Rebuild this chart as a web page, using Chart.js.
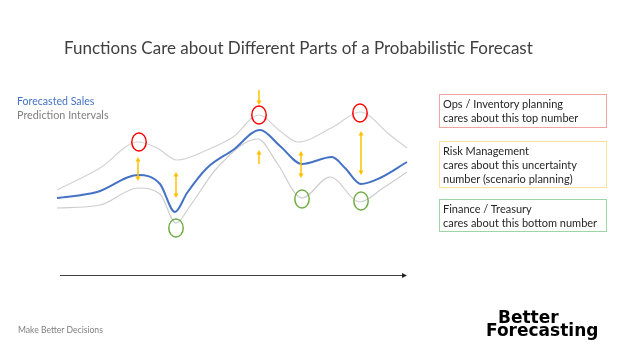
<!DOCTYPE html>
<html>
<head>
<meta charset="utf-8">
<title>Probabilistic Forecast</title>
<script src="https://cdn.jsdelivr.net/npm/chart.js@4/dist/chart.umd.min.js"></script>
<style>
  html, body { margin: 0; padding: 0; background: #fff; }
  #slide { position: relative; width: 624px; height: 352px; overflow: hidden; font-family: Lato, 'Open Sans', sans-serif; }
  #chart { position: absolute; left: 0; top: 0; }
  .t { position: absolute; white-space: nowrap; line-height: 14px; }
  .box { position: absolute; left: 439px; width: 168px; border: 1px solid; box-sizing: border-box;
         padding: 2px 0 0 3px; font-size: 11px; line-height: 13.8px; color: #262626; white-space: nowrap; }
</style>
</head>
<body>
<div id="slide">
  <canvas id="chart" width="624" height="352"></canvas>

  <div class="t" style="left:64px; top:40px; font-size:17px; line-height:16px; color:#404040;">Functions Care about Different Parts of a Probabilistic Forecast</div>

  <div class="t" style="left:17px; top:94px; font-size:10.6px; color:#4472c4;">Forecasted Sales</div>
  <div class="t" style="left:17px; top:108px; font-size:10.8px; color:#7f7f7f;">Prediction Intervals</div>

  <div class="box" style="top:94px; height:34px; border-color:#f4a3a3;">Ops / Inventory planning<br>cares about this top number</div>
  <div class="box" style="top:141px; height:47px; border-color:#ffe39a;">Risk Management<br>cares about this uncertainty<br>number (scenario planning)</div>
  <div class="box" style="top:199px; height:33px; border-color:#9ed5a6;">Finance / Treasury<br>cares about this bottom number</div>

  <div class="t" style="left:18px; top:323px; font-size:8.6px; color:#7f7f7f;">Make Better Decisions</div>
  <div class="t" style="left:498px; top:309px; font-size:17px; line-height:16px; font-weight:bold; font-family:'DejaVu Sans'; color:#000;">Better</div>
  <div class="t" style="left:486px; top:322px; font-size:17px; line-height:16px; font-weight:bold; font-family:'DejaVu Sans'; color:#000;">Forecasting</div>
</div>

<script>
/* ---------- Data (weeks ahead / sales units) ---------- */
const forecastWeeks = [0, 4, 8.1, 10.3, 11.8, 13, 15, 17.6, 20.3, 22.3, 24.5, 27.5, 28.8, 30.4, 32.3, 35];
const forecastSales = [42, 48, 65, 56, 28, 47, 72, 90, 110, 94, 76, 83, 72, 56, 62, 78];

const upperWeeks = [0, 4.3, 8.1, 10, 12, 15, 17.6, 20.2, 22.3, 24.1, 27.6, 30.3, 33.3, 35];
const upperSales = [50, 72, 98, 92, 80, 90, 103, 125, 109, 98, 113, 128, 105, 92];

const lowerWeeks = [0, 4.3, 8.1, 10.3, 11.9, 13.3, 16, 20.1, 22, 24.5, 27.3, 30.3, 32.6, 35];
const lowerSales = [32, 35, 52, 46, 17, 34, 72, 101, 77, 42, 63, 38, 52, 68];

// circled top / bottom numbers
const topWeeks = [8.2, 20.2, 30.3];
const topSales = [98, 125, 127];
const bottomWeeks = [11.9, 24.5, 30.4];
const bottomSales = [12, 41, 39];

// yellow arrows (from -> to, head type)
const arrowWeeks = [8.1, 11.9, 20.2, 20.2, 24.4, 30.4];
const arrowFrom = [83, 68, 150, 76, 89, 109];
const arrowTo = [59, 42, 135, 90, 62, 65];
const arrowHeads = ['both', 'both', 'end', 'end', 'both', 'both'];

// time axis arrow under the chart
const timeFrom = 0.3;
const timeTo = 35;
const timeLevel = -35;

const pts = (xs, ys) => xs.map((x, i) => ({ x, y: ys[i] }));

/* ---------- Ellipse marker ---------- */
function ellipseMarker(color) {
  const c = document.createElement('canvas');
  c.width = 18; c.height = 22;
  const g = c.getContext('2d');
  g.strokeStyle = color;
  g.lineWidth = 1.5;
  g.beginPath();
  g.ellipse(9, 11, 7.2, 9, 0, 0, Math.PI * 2);
  g.stroke();
  return c;
}

/* ---------- Arrows plugin ---------- */
function head(ctx, x, y, dir) {
  ctx.beginPath();
  ctx.moveTo(x, y);
  ctx.lineTo(x - 2.5, y - dir * 4.5);
  ctx.lineTo(x + 2.5, y - dir * 4.5);
  ctx.closePath();
  ctx.fill();
}

const arrowsPlugin = {
  id: 'arrows',
  afterDatasetsDraw(chart) {
    const { ctx, scales: { x, y } } = chart;
    ctx.save();

    ctx.strokeStyle = '#ffc000';
    ctx.fillStyle = '#ffc000';
    ctx.lineWidth = 1.5;
    arrowWeeks.forEach((w, i) => {
      const px = x.getPixelForValue(w);
      const y1 = y.getPixelForValue(arrowFrom[i]);
      const y2 = y.getPixelForValue(arrowTo[i]);
      const dir = Math.sign(y2 - y1);
      ctx.beginPath();
      ctx.moveTo(px, y1 + (arrowHeads[i] === 'both' ? dir * 3 : 0));
      ctx.lineTo(px, y2 - dir * 3);
      ctx.stroke();
      head(ctx, px, y2, dir);
      if (arrowHeads[i] === 'both') head(ctx, px, y1, -dir);
    });

    // time arrow
    const ty = Math.round(y.getPixelForValue(timeLevel)) + 0.5;
    const tx1 = x.getPixelForValue(timeFrom);
    const tx2 = x.getPixelForValue(timeTo);
    ctx.strokeStyle = '#404040';
    ctx.fillStyle = '#262626';
    ctx.lineWidth = 1;
    ctx.beginPath();
    ctx.moveTo(tx1, ty);
    ctx.lineTo(tx2 - 4, ty);
    ctx.stroke();
    ctx.beginPath();
    ctx.moveTo(tx2, ty);
    ctx.lineTo(tx2 - 5, ty - 2.5);
    ctx.lineTo(tx2 - 5, ty + 2.5);
    ctx.closePath();
    ctx.fill();

    ctx.restore();
  }
};

/* ---------- Chart ---------- */
new Chart(document.getElementById('chart'), {
  type: 'line',
  data: {
    datasets: [
      {
        label: 'Top number',
        type: 'scatter',
        data: pts(topWeeks, topSales),
        pointStyle: ellipseMarker('#ff0000'),
        clip: false
      },
      {
        label: 'Bottom number',
        type: 'scatter',
        data: pts(bottomWeeks, bottomSales),
        pointStyle: ellipseMarker('#70ad47'),
        clip: false
      },
      {
        label: 'Forecasted Sales',
        data: pts(forecastWeeks, forecastSales),
        borderColor: '#4472c4',
        borderWidth: 2,
        pointRadius: 0,
        cubicInterpolationMode: 'monotone',
        clip: false
      },
      {
        label: 'Upper interval',
        data: pts(upperWeeks, upperSales),
        borderColor: '#d2d2d2',
        borderWidth: 1.2,
        pointRadius: 0,
        cubicInterpolationMode: 'monotone',
        clip: false
      },
      {
        label: 'Lower interval',
        data: pts(lowerWeeks, lowerSales),
        borderColor: '#cdcdcd',
        borderWidth: 1.2,
        pointRadius: 0,
        cubicInterpolationMode: 'monotone',
        clip: false
      }
    ]
  },
  options: {
    responsive: false,
    animation: false,
    layout: { padding: { left: 57, right: 217, top: 88, bottom: 112 } },
    plugins: { legend: { display: false }, tooltip: { enabled: false } },
    scales: {
      x: { type: 'linear', min: 0, max: 35, display: false },
      y: { min: 0, max: 152, display: false }
    }
  },
  plugins: [arrowsPlugin]
});
</script>
</body>
</html>
